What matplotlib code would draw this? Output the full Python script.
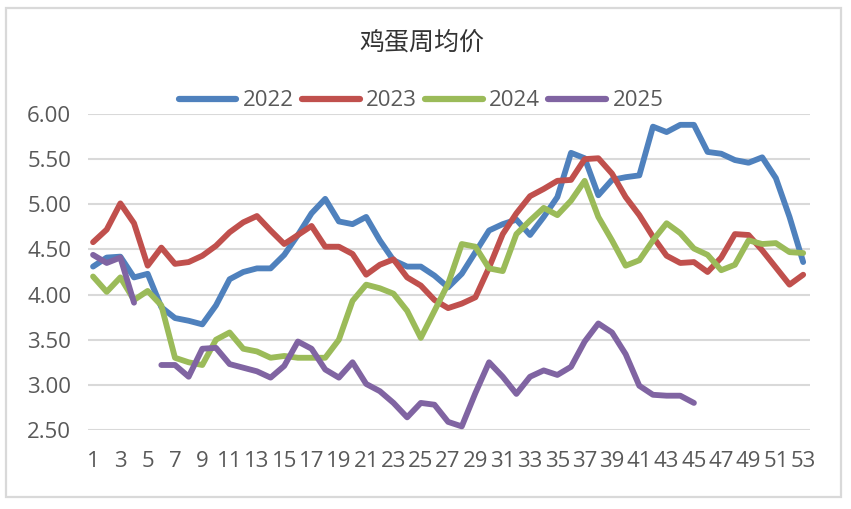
import numpy as np
import matplotlib
matplotlib.use("Agg")
import matplotlib.pyplot as plt
from matplotlib.patches import Rectangle

weeks = list(range(1, 54))
x_tick_labels = [str(w) for w in range(1, 54, 2)]

y2022 = [4.31, 4.41, 4.42, 4.19, 4.23, 3.86, 3.74, 3.71, 3.67, 3.88,
         4.17, 4.25, 4.29, 4.29, 4.44, 4.66, 4.90, 5.06, 4.81, 4.78,
         4.86, 4.60, 4.38, 4.31, 4.31, 4.21, 4.08, 4.23, 4.47, 4.71,
         4.78, 4.83, 4.66, 4.86, 5.08, 5.57, 5.51, 5.10, 5.27, 5.30,
         5.32, 5.86, 5.80, 5.88, 5.88, 5.58, 5.56, 5.49, 5.46, 5.52,
         5.29, 4.86, 4.36]
y2023 = [4.58, 4.72, 5.01, 4.79, 4.32, 4.52, 4.34, 4.36, 4.43, 4.54,
         4.69, 4.80, 4.87, 4.71, 4.56, 4.66, 4.76, 4.53, 4.53, 4.45,
         4.22, 4.33, 4.39, 4.19, 4.10, 3.94, 3.85, 3.90, 3.97, 4.30,
         4.67, 4.90, 5.09, 5.17, 5.26, 5.27, 5.50, 5.51, 5.34, 5.08,
         4.88, 4.64, 4.43, 4.35, 4.36, 4.25, 4.41, 4.67, 4.66, 4.49,
         4.30, 4.11, 4.22]
y2024 = [4.20, 4.03, 4.19, 3.94, 4.04, 3.88, 3.30, 3.25, 3.22, 3.50,
         3.58, 3.40, 3.37, 3.30, 3.32, 3.30, 3.30, 3.30, 3.50, 3.93,
         4.11, 4.07, 4.01, 3.82, 3.52, 3.82, 4.12, 4.56, 4.53, 4.29,
         4.26, 4.67, 4.82, 4.96, 4.88, 5.04, 5.26, 4.86, 4.60, 4.32,
         4.38, 4.60, 4.79, 4.68, 4.51, 4.44, 4.27, 4.33, 4.60, 4.56,
         4.57, 4.47, 4.46]
y2025 = [4.44, 4.35, 4.41, 3.91, np.nan, 3.22, 3.22, 3.09, 3.40, 3.41,
         3.23, 3.19, 3.15, 3.08, 3.21, 3.48, 3.40, 3.17, 3.08, 3.25,
         3.01, 2.93, 2.80, 2.64, 2.80, 2.78, 2.59, 2.54, 2.91, 3.25,
         3.09, 2.90, 3.09, 3.16, 3.11, 3.20, 3.48, 3.68, 3.58, 3.34,
         2.99, 2.89, 2.88, 2.88, 2.80]

series_names = ["2022", "2023", "2024", "2025"]
series_values = [y2022, y2023, y2024, y2025]
colors = ["#4F81BD", "#C0504D", "#9BBB59", "#8064A2"]
y_ticks = [2.5, 3.0, 3.5, 4.0, 4.5, 5.0, 5.5, 6.0]
title = "鸡蛋周均价"

plt.rcParams['font.family'] = ['Open Sans', 'DejaVu Sans']

W, H = 851, 509
fig = plt.figure(figsize=(W / 100, H / 100), dpi=100)
ax = fig.add_axes([88 / W, 1 - 430 / H, (810 - 88) / W, (430 - 114) / H])

for name, vals, c in zip(series_names, series_values, colors):
    ax.plot(weeks[:len(vals)], vals, color=c, lw=4.2, label=name,
            solid_joinstyle='round', solid_capstyle='round', zorder=3)

ax.set_ylim(2.5, 6.0)
ax.set_xlim(0.63, 53.5)
ax.set_yticks(y_ticks)
ax.set_yticklabels([f"{v:.2f}" for v in y_ticks])
ax.set_xticks(list(range(1, 54, 2)))
ax.set_xticklabels(x_tick_labels)
ax.yaxis.grid(True, color="#D9D9D9", lw=1.5, zorder=0)
ax.xaxis.grid(False)
for s in ax.spines.values():
    s.set_visible(False)
ax.tick_params(axis='both', length=0, labelsize=16, colors="#595959")
ax.tick_params(axis='y', pad=12)
ax.tick_params(axis='x', pad=15)

leg = fig.legend(loc='center', bbox_to_anchor=(421 / W, 1 - 101 / H), ncol=4,
                 frameon=False, fontsize=16, handlelength=2.6,
                 handletextpad=0.3, columnspacing=0.35)
for t in leg.get_texts():
    t.set_color("#595959")
for l in leg.get_lines():
    l.set_linewidth(4.5)
    l.set_solid_capstyle('round')

fig.text(422 / W, 1 - 43 / H, title, ha='center', va='center', fontsize=18,
         color="#333333", family=['Noto Sans CJK SC', 'DejaVu Sans'])

fig.patches.append(Rectangle((5.5 / W, 1 - 497 / H), (841 - 5.5) / W, (497 - 7.5) / H,
                             transform=fig.transFigure, fill=False,
                             edgecolor="#D9D9D9", lw=1.6))

fig.savefig("out.png", dpi=100, facecolor="white")
